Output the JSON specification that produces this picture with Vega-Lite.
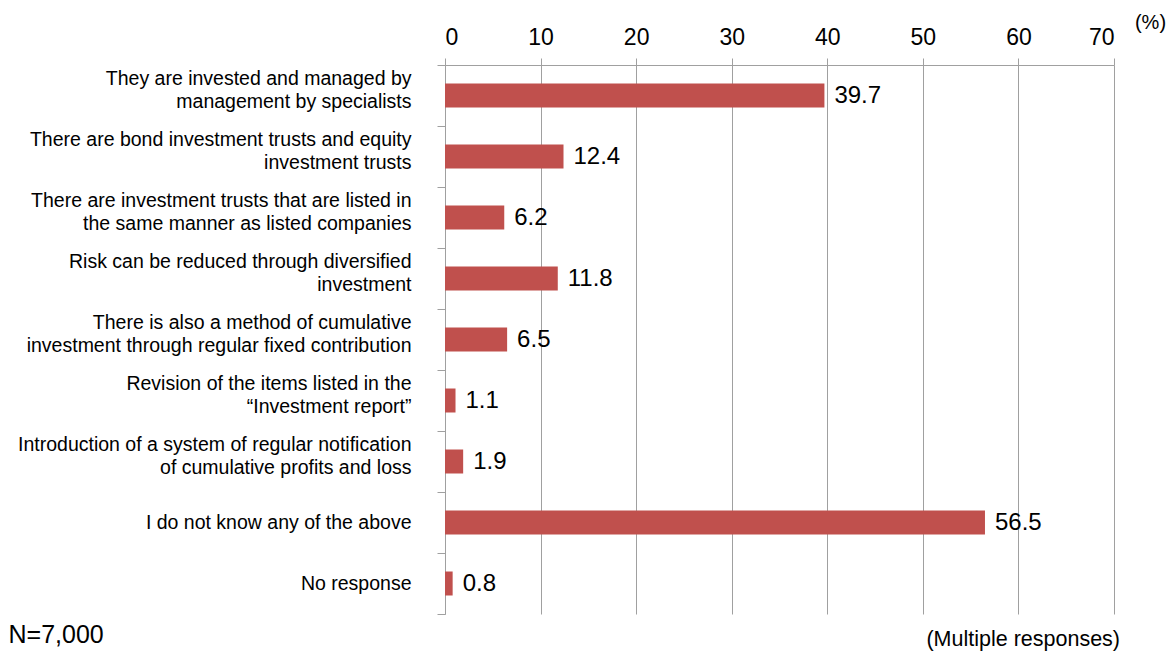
{
  "$schema": "https://vega.github.io/schema/vega-lite/v6.json",
  "autosize": "none",
  "width": 669,
  "height": 549,
  "padding": {"left": 445, "top": 65, "right": 58, "bottom": 37},
  "background": "white",
  "config": {
    "font": "Liberation Sans",
    "view": {"stroke": null}
  },
  "title": {
    "text": "(Multiple responses)",
    "orient": "bottom",
    "anchor": "end",
    "frame": "group",
    "fontSize": 21.5,
    "fontWeight": "normal",
    "color": "#000000",
    "offset": 0,
    "dx": 6,
    "dy": -18
  },
  "data": {
    "values": [
      {"item": "They are invested and managed by|management by specialists", "pct": 39.7},
      {"item": "There are bond investment trusts and equity|investment trusts", "pct": 12.4},
      {"item": "There are investment trusts that are listed in|the same manner as listed companies", "pct": 6.2},
      {"item": "Risk can be reduced through diversified|investment", "pct": 11.8},
      {"item": "There is also a method of cumulative|investment through regular fixed contribution", "pct": 6.5},
      {"item": "Revision of the items listed in the|“Investment report”", "pct": 1.1},
      {"item": "Introduction of a system of regular notification|of cumulative profits and loss", "pct": 1.9},
      {"item": "I do not know any of the above", "pct": 56.5},
      {"item": "No response", "pct": 0.8}
    ]
  },
  "encoding": {
    "y": {
      "field": "item",
      "type": "nominal",
      "sort": null,
      "scale": {"paddingInner": 0, "paddingOuter": 0},
      "axis": {
        "title": "N=7,000",
        "titleAngle": 0,
        "titleAlign": "left",
        "titleBaseline": "middle",
        "titleX": -437,
        "titleY": 569,
        "titleFontSize": 25,
        "titleFontWeight": "normal",
        "titleColor": "#000000",
        "labelExpr": "indexof(datum.label, '|') >= 0 ? [split(datum.label, '|')[0], '\u200b', '\u200b', '\u200b', split(datum.label, '|')[1]] : ['\u200b', '\u200b', '\u200b', datum.label]",
        "labelBaseline": "bottom",
        "labelFontSize": 19.5,
        "labelLineHeight": 5.75,
        "labelOffset": -7,
        "labelColor": "#000000",
        "labelPadding": 26,
        "labelLimit": 500,
        "tickBand": "extent",
        "tickSize": 8,
        "tickColor": "#A0A0A0",
        "domainColor": "#A0A0A0",
        "grid": false
      }
    }
  },
  "layer": [
    {
      "mark": {"type": "bar", "color": "#C0504D", "size": 24},
      "encoding": {
        "x": {
          "field": "pct",
          "type": "quantitative",
          "scale": {"domain": [0, 70], "nice": false},
          "axis": {
            "orient": "top",
            "values": [0, 10, 20, 30, 40, 50, 60, 70],
            "title": "(%)",
            "titleX": 705,
            "titleY": -43,
            "titleAlign": "center",
            "titleBaseline": "middle",
            "titleFontSize": 20,
            "titleFontWeight": "normal",
            "titleColor": "#000000",
            "labelFontSize": 23,
            "labelColor": "#000000",
            "labelPadding": 9,
            "tickSize": 7,
            "tickColor": "#A0A0A0",
            "domainColor": "#A0A0A0",
            "grid": true,
            "gridColor": "#A0A0A0",
            "gridOpacity": 1
          }
        }
      }
    },
    {
      "mark": {"type": "text", "align": "left", "baseline": "middle", "dx": 10, "fontSize": 24, "color": "#000000"},
      "encoding": {
        "x": {"field": "pct", "type": "quantitative"},
        "text": {"field": "pct", "type": "quantitative", "format": ".1f"}
      }
    }
  ]
}
